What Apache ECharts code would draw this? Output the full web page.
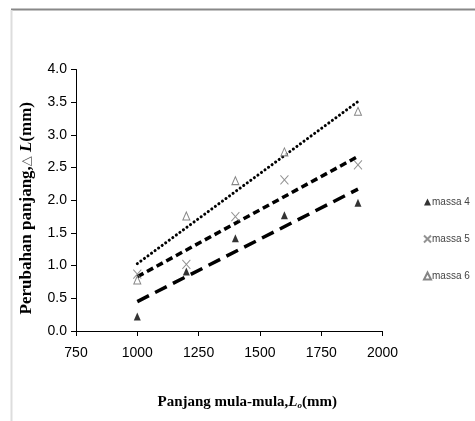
<!DOCTYPE html>
<html>
<head>
<meta charset="utf-8">
<script src="https://cdn.jsdelivr.net/npm/echarts@6/dist/echarts.min.js"></script>
<style>
html,body{margin:0;padding:0;background:#fff;}
#chart{width:475px;height:421px;}
</style>
</head>
<body>
<div id="chart"></div>
<script>
// Data
var lengths = [1000, 1200, 1400, 1600, 1900];
var massa4 = [0.22, 0.91, 1.42, 1.77, 1.96];
var massa5 = [0.87, 1.02, 1.75, 2.31, 2.54];
var massa6 = [0.78, 1.76, 2.30, 2.74, 3.36];
var trendX = [1000, 1900];
var trend4 = [0.45, 2.17];
var trend5 = [0.83, 2.67];
var trend6 = [1.03, 3.51];
var seriesNames = ['massa 4', 'massa 5', 'massa 6'];
var xTicks = [750, 1000, 1250, 1500, 1750, 2000];
var yTicks = ['0.0', '0.5', '1.0', '1.5', '2.0', '2.5', '3.0', '3.5', '4.0'];

function pairs(xs, ys) { return xs.map(function (x, i) { return [x, ys[i]]; }); }

var chart = echarts.init(document.getElementById('chart'), null, {renderer: 'canvas'});
var option = {
  backgroundColor: '#fff',
  animation: false,
  grid: {left: 76, right: 92.5, top: 69.5, bottom: 90, containLabel: false},
  legend: {
    orient: 'vertical',
    left: 418,
    top: 192,
    itemWidth: 7,
    itemHeight: 7,
    itemGap: 27,
    data: seriesNames,
    textStyle: {fontFamily: 'Liberation Sans, Arial, sans-serif', fontSize: 10, color: '#444', padding: [0, 0, 0, -4]}
  },
  xAxis: {
    type: 'value',
    min: xTicks[0],
    max: xTicks[xTicks.length - 1],
    interval: 250,
    name: '{b|Panjang mula-mula,}{i|L}{s|o}{b|(mm)}',
    nameLocation: 'middle',
    nameGap: 64,
    nameTextStyle: {
      padding: [0, 0, 0, 36],
      rich: {
        b: {fontFamily: 'Liberation Serif, Times New Roman, serif', fontWeight: 'bold', fontSize: 15, color: '#000'},
        i: {fontFamily: 'Liberation Serif, Times New Roman, serif', fontWeight: 'bold', fontStyle: 'italic', fontSize: 15, color: '#000'},
        s: {fontFamily: 'Liberation Serif, Times New Roman, serif', fontWeight: 'bold', fontStyle: 'italic', fontSize: 9, color: '#000', verticalAlign: 'bottom', padding: [6, 0, 0, 0]}
      }
    },
    axisLine: {show: true, onZero: false, lineStyle: {color: '#000', width: 1}},
    axisTick: {show: true, length: 5, lineStyle: {color: '#000'}},
    axisLabel: {margin: 15, color: '#000', fontSize: 14, fontFamily: 'Liberation Sans, Arial, sans-serif',
      formatter: function (v) { return String(v); }},
    splitLine: {show: false}
  },
  yAxis: {
    type: 'value',
    min: 0,
    max: 4,
    interval: 0.5,
    name: '{b|Perubahan panjang,}{t|\u25B3 }{i|L}{b|(mm)}',
    nameLocation: 'middle',
    nameRotate: 90,
    nameGap: 41,
    nameTextStyle: {
      padding: [0, 16, 0, 0],
      rich: {
        b: {fontFamily: 'Liberation Serif, Times New Roman, serif', fontWeight: 'bold', fontSize: 17, color: '#000'},
        t: {fontFamily: 'DejaVu Sans, sans-serif', fontSize: 13, color: '#555'},
        i: {fontFamily: 'Liberation Serif, Times New Roman, serif', fontWeight: 'bold', fontStyle: 'italic', fontSize: 17, color: '#000'}
      }
    },
    axisLine: {show: true, onZero: false, lineStyle: {color: '#000', width: 1}},
    axisTick: {show: true, length: 5, lineStyle: {color: '#000'}},
    axisLabel: {margin: 9, color: '#000', fontSize: 14, fontFamily: 'Liberation Sans, Arial, sans-serif',
      formatter: function (v) { return yTicks[Math.round(v / 0.5)]; }},
    splitLine: {show: false}
  },
  series: [
    {
      name: seriesNames[0], type: 'scatter', data: pairs(lengths, massa4),
      symbol: 'triangle', symbolSize: [7, 8],
      itemStyle: {color: '#000'}, z: 5
    },
    {
      name: seriesNames[1], type: 'scatter', data: pairs(lengths, massa5),
      symbol: 'path://M0,0L10,10M10,0L0,10', symbolSize: [8, 9],
      itemStyle: {color: 'rgba(0,0,0,0)', borderColor: '#777', borderWidth: 1}, z: 5
    },
    {
      name: seriesNames[2], type: 'scatter', data: pairs(lengths, massa6),
      symbol: 'triangle', symbolSize: [7, 8],
      itemStyle: {color: '#fff', borderColor: '#666', borderWidth: 1}, z: 5
    },
    {
      name: 'trend massa 4', type: 'line', data: pairs(trendX, trend4),
      symbol: 'none', silent: true,
      lineStyle: {color: '#000', width: 3.5, type: [13, 7]}, z: 3
    },
    {
      name: 'trend massa 5', type: 'line', data: pairs(trendX, trend5),
      symbol: 'none', silent: true,
      lineStyle: {color: '#000', width: 3.5, type: [7, 4]}, z: 3
    },
    {
      name: 'trend massa 6', type: 'line', data: pairs(trendX, trend6),
      symbol: 'none', silent: true,
      lineStyle: {color: '#000', width: 3, type: [0.1, 4.3], cap: 'round'}, z: 3
    }
  ],
  graphic: [
    {type: 'line', shape: {x1: 11, y1: 9.5, x2: 475, y2: 9.5}, style: {stroke: '#888', lineWidth: 2}, silent: true},
    {type: 'line', shape: {x1: 11.5, y1: 10, x2: 11.5, y2: 421}, style: {stroke: '#ddd', lineWidth: 2}, silent: true}
  ]
};
chart.setOption(option);
</script>
</body>
</html>
